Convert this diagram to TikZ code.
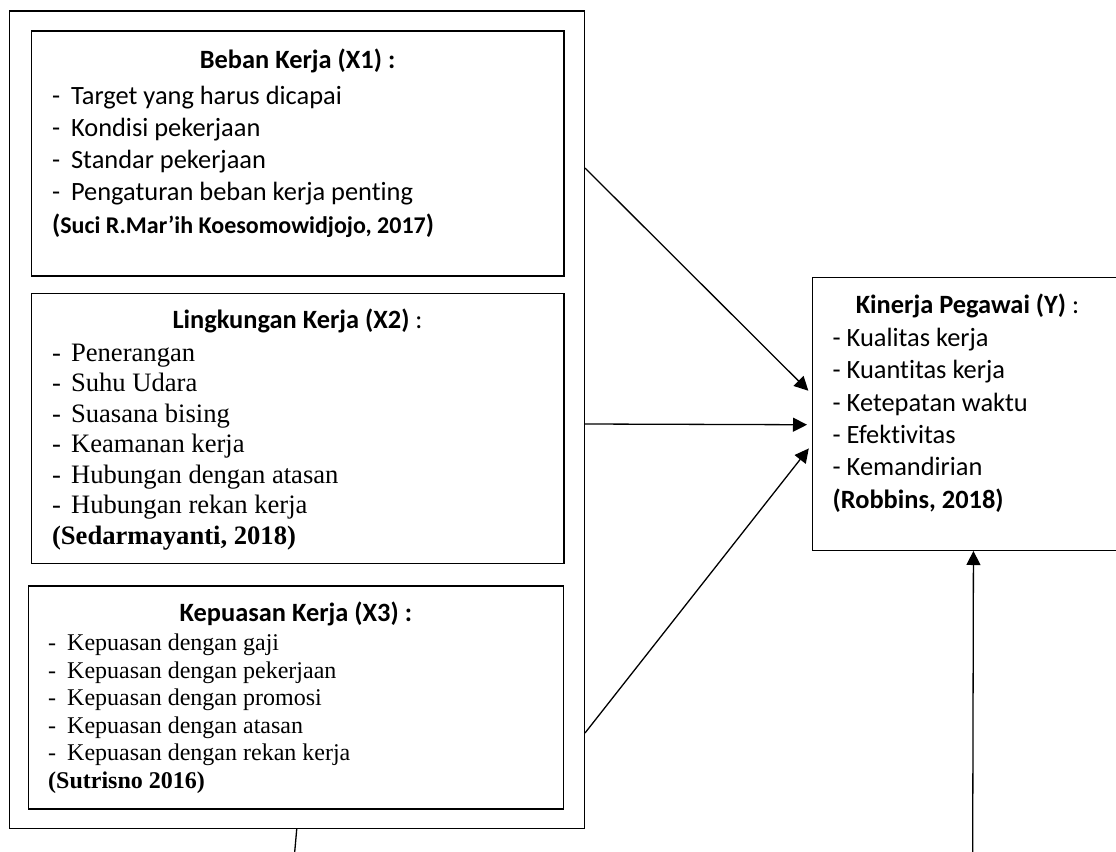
\documentclass[tikz,border=0pt]{standalone}
\usepackage{fontspec}
\setmainfont{Liberation Serif}
\newfontfamily\carlito[Ligatures=NoCommon]{Carlito}
\usepackage{tikz}
\usetikzlibrary{arrows.meta,positioning}

\newcommand{\dashlead}{\makebox[9.5pt][l]{-}}

\begin{document}
\begin{tikzpicture}[
      x=0.5pt, y=-0.5pt,
      frame/.style={
        draw, line width=0.75pt, inner sep=0pt,
        anchor=north west
      },
      head/.style={
        font=\carlito\bfseries\fontsize{13.2}{16.1}\selectfont,
        inner sep=0pt, anchor=base
      },
      items/.style={align=left, inner sep=0pt, anchor=base west},
      calitems/.style={items, font=\carlito\fontsize{13.2}{16.1}\selectfont},
      arrow/.style={-{Triangle[length=7pt,width=7pt]}, line width=0.65pt},
      link/.style={line width=0.65pt}
    ]
    \useasboundingbox (0,0) rectangle (1116,852);

    % frames
    \node[frame, minimum width=287.5pt, minimum height=408.75pt] (outer) at (8.5,10) {};
    \node[frame, minimum width=266.2pt, minimum height=122.5pt] (x1box) at (30.6,30) {};
    \node[frame, minimum width=266.2pt, minimum height=135pt] (x2box) at (30.6,292.7) {};
    \node[frame, minimum width=267.5pt, minimum height=111.5pt] (x3box) at (27.6,585) {};
    \node[frame, minimum width=161pt, minimum height=136.4pt] (yk) at (811.7,276.7) {};

    % X1 (list anchored at the baseline of its last line)
    \node[head] (x1head) at ([yshift=-19pt]x1box.north) {Beban Kerja (X1) :};
    \node[calitems] (x1items) at ([xshift=10.55pt, yshift=-101.5pt]x1box.north west)
      {\dashlead Target yang harus dicapai\\
       \dashlead Kondisi pekerjaan\\
       \dashlead Standar pekerjaan\\
       \dashlead Pengaturan beban kerja penting\\
       \textbf{({\fontsize{12}{16.1}\selectfont Suci R.Mar’ih Koesomowidjojo, 2017})}};

    % X2
    \node[head] (x2head) at ([yshift=-17.65pt]x2box.north) {Lingkungan Kerja (X2)\mdseries\ :};
    \node[items, font=\fontsize{13.3}{15.25}\selectfont] (x2items)
      at ([xshift=10.55pt, yshift=-125.65pt]x2box.north west)
      {\dashlead Penerangan\\
       \dashlead Suhu Udara\\
       \dashlead Suasana bising\\
       \dashlead Keamanan kerja\\
       \dashlead Hubungan dengan atasan\\
       \dashlead Hubungan rekan kerja\\
       \textbf{(Sedarmayanti, 2018)}};

    % X3
    \node[head] (x3head) at ([yshift=-18pt]x3box.north) {Kepuasan Kerja (X3) :};
    \node[items, font=\fontsize{12}{13.75}\selectfont] (x3items)
      at ([xshift=10.1pt, yshift=-101.65pt]x3box.north west)
      {\dashlead Kepuasan dengan gaji\\
       \dashlead Kepuasan dengan pekerjaan\\
       \dashlead Kepuasan dengan promosi\\
       \dashlead Kepuasan dengan atasan\\
       \dashlead Kepuasan dengan rekan kerja\\
       \textbf{(Sutrisno 2016)}};

    % Y
    \node[head] (ykhead) at ([xshift=-3pt, yshift=-18.3pt]yk.north) {Kinerja Pegawai (Y)\mdseries\ :};
    \node[calitems, font=\carlito\fontsize{13.2}{16.2}\selectfont] (ykitems)
      at ([xshift=10.3pt, yshift=-115.8pt]yk.north west)
      {- Kualitas kerja\\
       - Kuantitas kerja\\
       - Ketepatan waktu\\
       - Efektivitas\\
       - Kemandirian\\
       \textbf{(Robbins, 2018)}};

    % connectors
    \coordinate (ybot) at (972.7,852);
    \coordinate (tail) at (294.7,852);

    \draw[arrow, shorten >=2.35pt] ([yshift=-79pt]outer.north east) -- ([yshift=9.9pt]yk.west);
    \draw[arrow, shorten >=2.35pt] ([yshift=-207pt]outer.north east) -- ([yshift=-5.45pt]yk.west);
    \draw[arrow, shorten >=2.35pt] ([yshift=-361.5pt]outer.north east) -- ([yshift=-15.45pt]yk.west);
    \draw[arrow] (ybot) -- (yk.south);
    \draw[link] (outer.south) -- (tail);
  \end{tikzpicture}
\end{document}
